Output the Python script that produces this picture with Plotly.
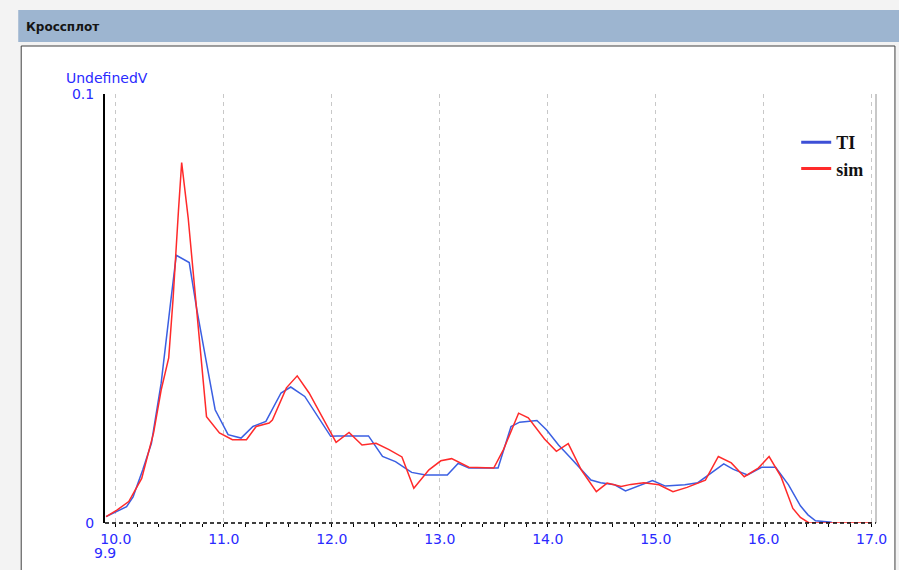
import plotly.graph_objects as go

# ---------------- data ----------------
ti_x = [9.91, 10.0, 10.10, 10.16, 10.25, 10.33, 10.42, 10.50, 10.56, 10.68, 10.75, 10.84, 10.92,
        11.04, 11.16, 11.27, 11.39, 11.53, 11.62, 11.75, 11.87, 11.99, 12.05, 12.34, 12.47, 12.59,
        12.68, 12.74, 12.87, 13.07, 13.17, 13.27, 13.54, 13.66, 13.74, 13.90, 13.99, 14.10, 14.20,
        14.31, 14.40, 14.49, 14.62, 14.72, 14.83, 14.89, 14.97, 15.09, 15.27, 15.39, 15.51, 15.63,
        15.72, 15.85, 15.98, 16.11, 16.23, 16.34, 16.41, 16.48, 16.63]
ti_y = [0.0015, 0.0026, 0.0038, 0.0061, 0.0124, 0.0186, 0.0326, 0.0498, 0.0624, 0.0607, 0.0498,
        0.0373, 0.0264, 0.0206, 0.0198, 0.0225, 0.0237, 0.0303, 0.0317, 0.0295, 0.0248, 0.0202,
        0.0203, 0.0203, 0.0155, 0.0143, 0.0128, 0.0118, 0.0112, 0.0112, 0.0139, 0.0128, 0.0128,
        0.0225, 0.0235, 0.0239, 0.0217, 0.0182, 0.0155, 0.0124, 0.0100, 0.0094, 0.0089, 0.0075,
        0.0085, 0.0090, 0.0099, 0.0086, 0.0089, 0.0094, 0.0116, 0.0138, 0.0125, 0.0112, 0.0130,
        0.0130, 0.0089, 0.0040, 0.0019, 0.0005, 0.0002]

sim_x = [9.91, 10.01, 10.12, 10.24, 10.35, 10.42, 10.49, 10.53, 10.58, 10.61, 10.67, 10.78, 10.84,
         10.96, 11.08, 11.21, 11.30, 11.42, 11.45, 11.58, 11.68, 11.79, 11.91, 12.04, 12.16, 12.28,
         12.41, 12.53, 12.65, 12.76, 12.90, 13.01, 13.11, 13.27, 13.50, 13.59, 13.73, 13.82, 13.97,
         14.08, 14.19, 14.31, 14.45, 14.55, 14.68, 14.77, 14.89, 15.03, 15.16, 15.29, 15.46, 15.58,
         15.70, 15.82, 15.95, 16.05, 16.16, 16.27, 16.34, 16.42, 17.0]
sim_y = [0.0015, 0.0030, 0.0050, 0.0104, 0.0210, 0.0310, 0.0385, 0.0521, 0.0727, 0.0840, 0.0712,
         0.0420, 0.0248, 0.0210, 0.0194, 0.0194, 0.0225, 0.0233, 0.0240, 0.0315, 0.0343, 0.0303,
         0.0248, 0.0188, 0.0211, 0.0182, 0.0186, 0.0171, 0.0154, 0.0081, 0.0124, 0.0145, 0.0150,
         0.0130, 0.0128, 0.0171, 0.0256, 0.0245, 0.0196, 0.0167, 0.0185, 0.0124, 0.0073, 0.0093,
         0.0085, 0.0090, 0.0094, 0.0089, 0.0073, 0.0083, 0.0100, 0.0155, 0.0140, 0.0108, 0.0128,
         0.0155, 0.0108, 0.0034, 0.0013, 0.0, 0.0]

x_tick_vals = [10, 11, 12, 13, 14, 15, 16, 17]
x_tick_text = ["10.0", "11.0", "12.0", "13.0", "14.0", "15.0", "16.0", "17.0"]
y_tick_vals = [0, 0.1]
y_tick_text = ["0", "0.1"]
x_min_label = "9.9"
series_names = ["TI", "sim"]
title_text = "Кроссплот"
y_title = "UndefinedV"

# ---------------- geometry helpers ----------------
W, H = 899, 570
L, R, T, B = 105, 21, 94, 47
PW, PH = W - L - R, H - T - B


def px(x):
    return (x - L) / PW


def py(y):
    return (H - B - y) / PH


BLUE = "#3b5fe2"
RED = "#ff2a2a"
LABEL = "#2a2aff"
LFONT = dict(family="DejaVu Sans", size=14, color=LABEL)

fig = go.Figure()
fig.add_trace(go.Scatter(x=ti_x, y=ti_y, mode="lines", line=dict(color=BLUE, width=1.5),
                         name=series_names[0], legendgroup="a", showlegend=False))
fig.add_trace(go.Scatter(x=sim_x, y=sim_y, mode="lines", line=dict(color=RED, width=1.5),
                         name=series_names[1], legendgroup="b", showlegend=False))
# legend entries (thicker legend lines like the original)
fig.add_trace(go.Scatter(x=[None], y=[None], mode="lines", line=dict(color="#3d4fd6", width=3),
                         name="<b>" + series_names[0] + "</b>", legendgroup="a"))
fig.add_trace(go.Scatter(x=[None], y=[None], mode="lines", line=dict(color=RED, width=3),
                         name="<b>" + series_names[1] + "</b>", legendgroup="b"))

shapes = [
    # white panel
    dict(type="rect", xref="paper", yref="paper", x0=px(21), x1=px(897), y0=py(575), y1=py(46),
         fillcolor="white", line=dict(color="#404040", width=1), layer="below"),
    # title band
    dict(type="rect", xref="paper", yref="paper", x0=px(18), x1=px(905), y0=py(42), y1=py(10),
         fillcolor="#9db5d0", line=dict(width=0), layer="below"),
    # right border of plot area
    dict(type="line", xref="paper", yref="paper", x0=1, x1=1, y0=0, y1=1,
         line=dict(color="#c8c8c8", width=2), layer="below"),
    # dashed x axis line
    dict(type="line", xref="paper", yref="paper", x0=0, x1=1, y0=0, y1=0,
         line=dict(color="black", width=1.5, dash="4px,3px"), layer="above"),
]

annotations = [
    dict(text="<b>" + title_text + "</b>", xref="paper", yref="paper", x=px(24), y=py(27),
         xanchor="left", yanchor="middle", showarrow=False,
         font=dict(family="DejaVu Sans", size=12, color="#151515")),
    dict(text=y_title, xref="paper", yref="paper", x=px(64), y=py(88),
         xanchor="left", yanchor="bottom", showarrow=False, font=LFONT),
    dict(text=x_min_label, xref="x", yref="paper", x=9.9, y=py(543),
         xanchor="center", yanchor="top", showarrow=False, font=LFONT),
]

fig.update_layout(
    width=W, height=H,
    margin=dict(l=L, r=R, t=T, b=B, pad=0),
    paper_bgcolor="#f3f3f3",
    plot_bgcolor="rgba(0,0,0,0)",
    shapes=shapes,
    annotations=annotations,
    showlegend=True,
    legend=dict(x=px(798), y=py(124), xanchor="left", yanchor="top",
                bgcolor="rgba(0,0,0,0)", borderwidth=0,
                font=dict(family="Liberation Serif", size=18, color="#111111"),
                tracegroupgap=0, itemwidth=30),
    xaxis=dict(range=[9.9, 17.04], tickvals=x_tick_vals, ticktext=x_tick_text,
               showgrid=True, gridcolor="#c8c8c8", griddash="4px,4px", gridwidth=1,
               zeroline=False, showline=False,
               ticks="outside", ticklen=3, tickcolor="black", tickwidth=1,
               minor=dict(dtick=0.2, tick0=10, ticks="outside", ticklen=3, tickcolor="black",
                          showgrid=False),
               tickfont=LFONT),
    yaxis=dict(range=[0, 0.1], tickvals=y_tick_vals, ticktext=y_tick_text,
               showgrid=False, zeroline=False, showline=True, linecolor="black", linewidth=2,
               ticks="", ticklabelstandoff=6,
               tickfont=LFONT),
)

fig.write_html("out.html")
